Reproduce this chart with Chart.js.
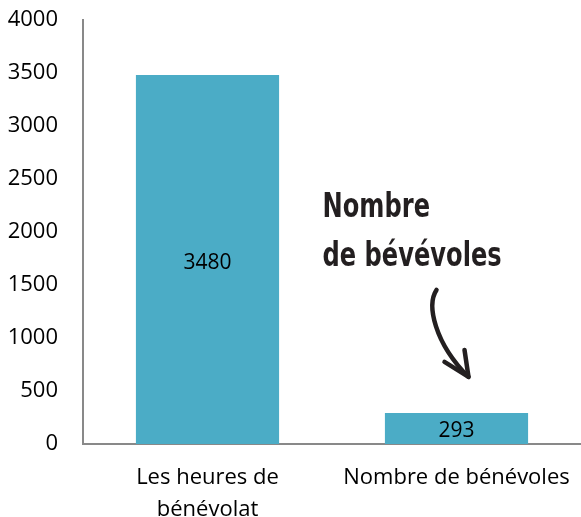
<!DOCTYPE html>
<html>
<head>
<meta charset="utf-8">
<script src="https://cdn.jsdelivr.net/npm/chart.js@4/dist/chart.umd.min.js"></script>
<style>
  html, body { margin:0; padding:0; background:#fff; }
  #wrap { width:581px; height:517px; position:relative; }
</style>
</head>
<body>
<div id="wrap"><canvas id="chart"></canvas></div>
<script>
const categories = [['Les heures de', 'bénévolat'], 'Nombre de bénévoles'];
const values = [3480, 293];
const yTicks = [0, 500, 1000, 1500, 2000, 2500, 3000, 3500, 4000];
const noteLines = ['Nombre', 'de bévévoles'];

const BAR = '#4BACC6';
const AXIS = '#898989';
const FONT = "'Open Sans', sans-serif";

// values written in the middle of each bar
const barLabels = {
  id: 'barLabels',
  afterDatasetsDraw(chart){
    const ctx = chart.ctx;
    const meta = chart.getDatasetMeta(0);
    ctx.save();
    ctx.font = '21px ' + FONT;
    ctx.fillStyle = '#000';
    ctx.textAlign = 'center';
    ctx.textBaseline = 'middle';
    meta.data.forEach((bar, i) => {
      ctx.fillText(String(values[i]), bar.x, (bar.y + bar.base) / 2 + 3);
    });
    ctx.restore();
  }
};

// hand-drawn style note with arrow pointing at the second bar
const note = {
  id: 'note',
  afterDraw(chart){
    const ctx = chart.ctx;
    const b = chart.getDatasetMeta(0).data[1];
    const x0 = b.x, y0 = b.y;
    ctx.save();
    ctx.fillStyle = '#231f20';
    ctx.font = "bold 34px 'DejaVu Sans', sans-serif";
    ctx.textAlign = 'left';
    ctx.textBaseline = 'alphabetic';
    // squeeze horizontally to get a condensed look
    const sx = 0.71;
    ctx.save();
    ctx.translate(x0 - 134, 0);
    ctx.scale(sx, 1);
    ctx.fillText(noteLines[0], 0, y0 - 196);
    ctx.fillText(noteLines[1], 0, y0 - 147);
    ctx.restore();

    ctx.strokeStyle = '#231f20';
    ctx.lineWidth = 4.5;
    ctx.lineCap = 'round';
    ctx.lineJoin = 'round';
    ctx.beginPath();
    ctx.moveTo(x0 - 20, y0 - 123);
    ctx.bezierCurveTo(x0 - 30, y0 - 108, x0 - 22, y0 - 70, x0 + 12, y0 - 36);
    ctx.stroke();
    ctx.beginPath();
    ctx.moveTo(x0 - 12, y0 - 51);
    ctx.lineTo(x0 + 12, y0 - 36);
    ctx.lineTo(x0 + 8, y0 - 63);
    ctx.stroke();
    ctx.restore();
  }
};

new Chart(document.getElementById('chart'), {
  type: 'bar',
  data: {
    labels: categories,
    datasets: [{ data: values, backgroundColor: BAR, barPercentage: 0.575, categoryPercentage: 1 }]
  },
  options: {
    responsive: true,
    maintainAspectRatio: false,
    animation: false,
    layout: { padding: { top: 20, right: 0, left: 0, bottom: 0 } },
    plugins: { legend: { display: false }, tooltip: { enabled: false } },
    scales: {
      x: {
        grid: { display: false, drawTicks: false },
        border: { color: AXIS, width: 2 },
        ticks: { color: '#000', font: { family: FONT, size: 22, lineHeight: 1.45 }, padding: 18, maxRotation: 0 },
        afterFit: s => { s.height = 73; s.paddingLeft = 0; s.paddingRight = 0; }
      },
      y: {
        min: 0, max: 4000,
        afterBuildTicks: s => { s.ticks = yTicks.map(v => ({ value: v })); },
        grid: { display: false, drawTicks: false },
        border: { color: AXIS, width: 2 },
        ticks: { color: '#000', font: { family: FONT, size: 22 }, padding: 25, callback: v => String(v) },
        afterFit: s => { s.width = 83; s.paddingTop = 0; s.paddingBottom = 0; }
      }
    }
  },
  plugins: [barLabels, note]
});
</script>
</body>
</html>
